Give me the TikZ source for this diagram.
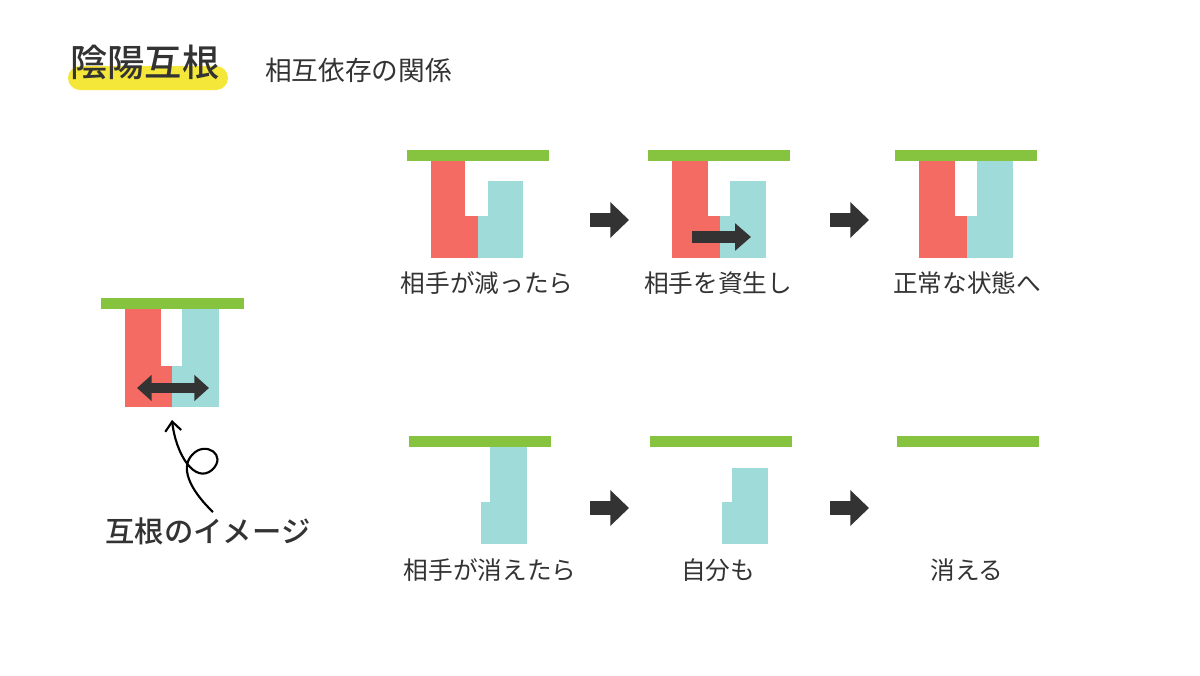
\documentclass[tikz,border=0pt]{standalone}
\usepackage{fontspec}
\setmainfont{Noto Sans CJK JP}
\newfontfamily\jpb{Noto Sans CJK JP Bold}
\newfontfamily\jpm{Noto Sans CJK JP Medium}
\usetikzlibrary{arrows.meta}
\definecolor{cred}{HTML}{F36B63}
\definecolor{ccyan}{HTML}{9EDBD9}
\definecolor{cgreen}{HTML}{86C440}
\definecolor{cdark}{HTML}{333333}
\definecolor{cyel}{HTML}{F5E63A}
\tikzset{x=0.75pt,y=-0.75pt,
 lbl/.style={font=\fontsize{18.5}{20}\selectfont,text=cdark},
 bigarr/.style={draw=cdark,line width=10.5pt,-{Triangle[length=14pt,width=26pt]}},
 inarr/.style={draw=cdark,line width=9pt,-{Triangle[length=12pt,width=20pt]}}}
\begin{document}
\begin{tikzpicture}
\useasboundingbox (0,0) rectangle (1200,675);
\fill[white] (0,0) rectangle (1200,675);
% title
\fill[cyel,rounded corners=9pt] (68,66) rectangle (228,90);
\node[anchor=west,font=\jpm\fontsize{28}{30}\selectfont,text=cdark,inner sep=0] (t) at (70,62) {陰陽互根};
\node[anchor=west,font=\fontsize{20}{22}\selectfont,text=cdark,inner sep=0] (st) at (265,70) {相互依存の関係};
% left figure
\fill[cred] (125,305) rectangle (161,407);
\fill[cred] (161,366) rectangle (172,407);
\fill[ccyan] (172,366) rectangle (219,407);
\fill[ccyan] (182,305) rectangle (219,366);
\fill[cgreen] (101,298) rectangle (244,309);
\draw[draw=cdark,line width=7pt,{Triangle[length=11pt,width=19pt]}-{Triangle[length=11pt,width=19pt]}] (137,388) -- (209,388);
\node[font=\jpm\fontsize{22}{24}\selectfont,text=cdark] (img) at (208,531) {互根のイメージ};
\coordinate (cs) at (213,512);
\coordinate (ce) at (172,420);
\draw[line width=1.6pt,-{Straight Barb[length=7pt,width=12pt]}] (cs) .. controls (195,495) and (178,470) .. (192,455) .. controls (205,440) and (228,455) .. (212,470) .. controls (195,484) and (176,455) .. (ce);
% top panels
\fill[cred] (431,155) rectangle (465,258); \fill[cred] (465,216) rectangle (478,258);
\fill[ccyan] (478,216) rectangle (523,258); \fill[ccyan] (488,181) rectangle (523,216);
\fill[cgreen] (407,150) rectangle (549,161);
\node[lbl] (l1) at (487,283) {相手が減ったら};
\coordinate (a1s) at (590,220); \coordinate (a1e) at (629,220);
\draw[bigarr] (a1s) -- (a1e);
\fill[cred] (672,155) rectangle (708,258); \fill[cred] (708,216) rectangle (720,258);
\fill[ccyan] (720,216) rectangle (766,258); \fill[ccyan] (730,181) rectangle (766,216);
\fill[cgreen] (648,150) rectangle (790,161);
\coordinate (ia) at (692,237); \coordinate (ib) at (751,237);
\draw[inarr] (ia) -- (ib);
\node[lbl] (l2) at (718,283) {相手を資生し};
\coordinate (a2s) at (830,220); \coordinate (a2e) at (869,220);
\draw[bigarr] (a2s) -- (a2e);
\fill[cred] (919,155) rectangle (955,258); \fill[cred] (955,216) rectangle (967,258);
\fill[ccyan] (967,216) rectangle (1013,258); \fill[ccyan] (977,155) rectangle (1013,216);
\fill[cgreen] (895,150) rectangle (1037,161);
\node[lbl] (l3) at (967,283) {正常な状態へ};
% bottom panels
\fill[ccyan] (490,442) rectangle (527,544); \fill[ccyan] (481,502) rectangle (490,544);
\fill[cgreen] (409,436) rectangle (551,447);
\node[lbl] (l4) at (490,570) {相手が消えたら};
\coordinate (a3s) at (590,508); \coordinate (a3e) at (629,508);
\draw[bigarr] (a3s) -- (a3e);
\fill[ccyan] (732,468) rectangle (768,544); \fill[ccyan] (722,502) rectangle (732,544);
\fill[cgreen] (650,436) rectangle (792,447);
\node[lbl] (l5) at (718,570) {自分も};
\coordinate (a4s) at (830,508); \coordinate (a4e) at (869,508);
\draw[bigarr] (a4s) -- (a4e);
\fill[cgreen] (897,436) rectangle (1039,447);
\node[lbl] (l6) at (967,570) {消える};
\end{tikzpicture}
\end{document}
